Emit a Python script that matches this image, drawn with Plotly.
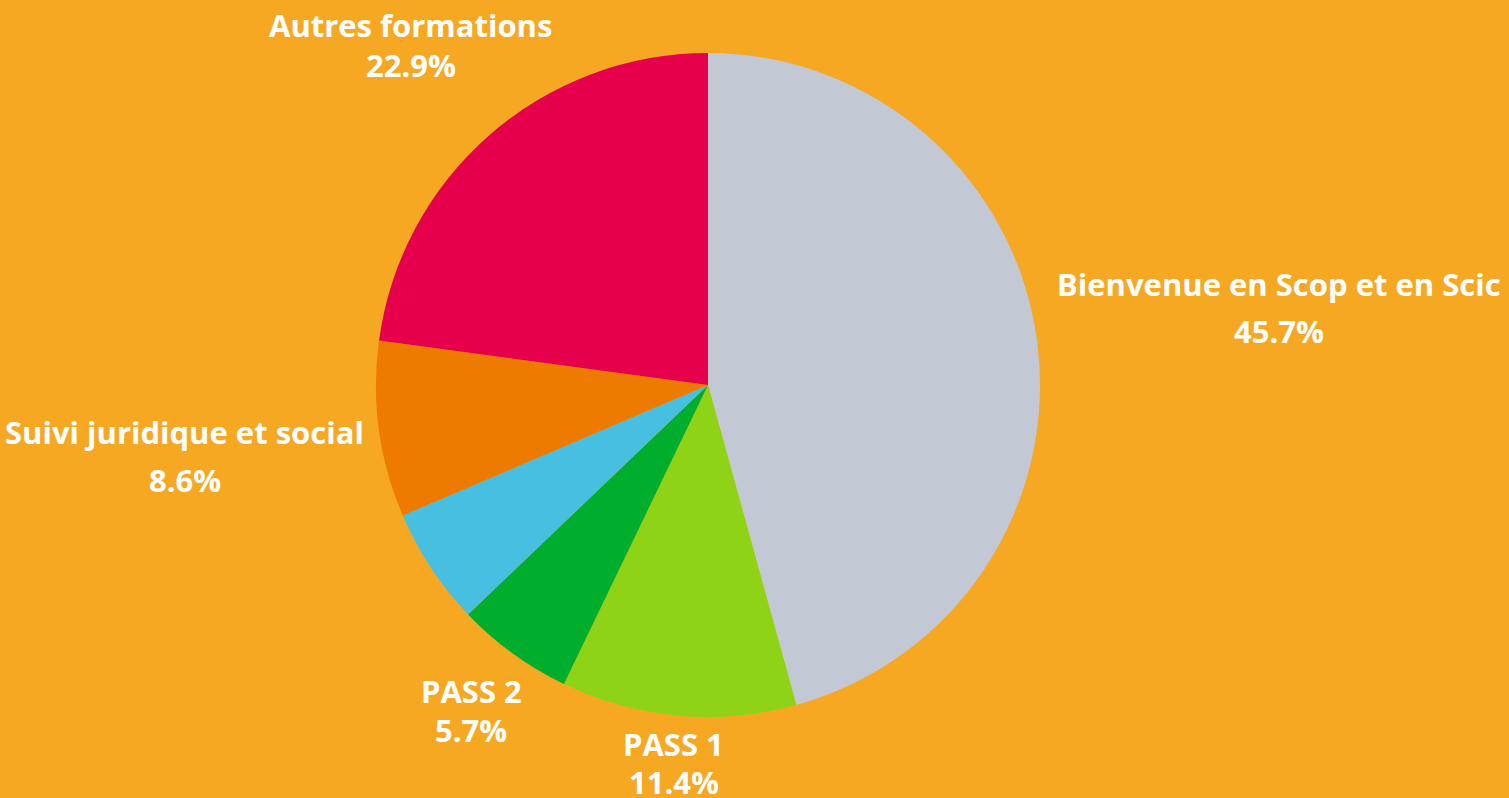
import math
import plotly.graph_objects as go

labels = ["Bienvenue en Scop et en Scic", "PASS 1", "PASS 2", "Autre", "Suivi juridique et social", "Autres formations"]
values = [16, 4, 2, 2, 3, 8]
colors = ["#C3C9D4", "#8FD316", "#00AE2E", "#47BFE0", "#EE7A00", "#E6004C"]
show_label = [True, True, True, False, True, True]

W, H = 1509, 798
CX, CY, RAD = 708, 385, 332          # pie centre / radius in pixels (layout)
FONT_SIZE = 31
FONT = dict(family="Open Sans", size=FONT_SIZE, color="white", weight="bold")
OFFSET, HALF_H = 13, 30


def text_width(s):
    """Rough width estimate of a bold label, in pixels."""
    narrow = set("ijlrtfI1. ")
    em = 0.0
    for ch in s:
        if ch in narrow:
            em += 0.28
        elif ch == "%":
            em += 0.85
        elif ch.isupper():
            em += 0.62
        else:
            em += 0.55
    return em * FONT_SIZE * 1.1


fig = go.Figure(go.Pie(
    labels=labels,
    values=values,
    sort=False,
    direction="clockwise",
    rotation=0,
    marker=dict(colors=colors, line=dict(width=0)),
    textinfo="none",
    showlegend=False,
    hoverinfo="label+percent",
    domain=dict(x=[(CX - RAD) / W, (CX + RAD) / W],
                y=[(H - CY - RAD) / H, (H - CY + RAD) / H]),
))

total = sum(values)
cum = 0
annotations = []
for lab, v, show in zip(labels, values, show_label):
    theta = (cum + v / 2) / total * 2 * math.pi
    cum += v
    if not show:
        continue
    pct = f"{v / total * 100:.1f}%"
    dx, dy = math.sin(theta), -math.cos(theta)
    w = max(text_width(lab), text_width(pct))
    R = RAD + OFFSET + abs(dx) * w / 2 + abs(dy) * HALF_H
    px, py = CX + dx * R, CY + dy * R
    gap = 19 + 5 * dx ** 4
    for txt, yy in ((lab, py - gap), (pct, py + gap)):
        annotations.append(dict(
            x=px / W, y=1 - yy / H, xref="paper", yref="paper",
            text=txt, showarrow=False, xanchor="center", yanchor="middle",
            font=FONT,
        ))

fig.update_layout(
    width=W, height=H,
    paper_bgcolor="#F7A823",
    plot_bgcolor="#F7A823",
    margin=dict(l=0, r=0, t=0, b=0),
    annotations=annotations,
)

fig.write_html(
    "out.html",
    config={"displayModeBar": False},
    post_script="document.body.style.margin='0';document.body.style.background='#F7A823';",
)
